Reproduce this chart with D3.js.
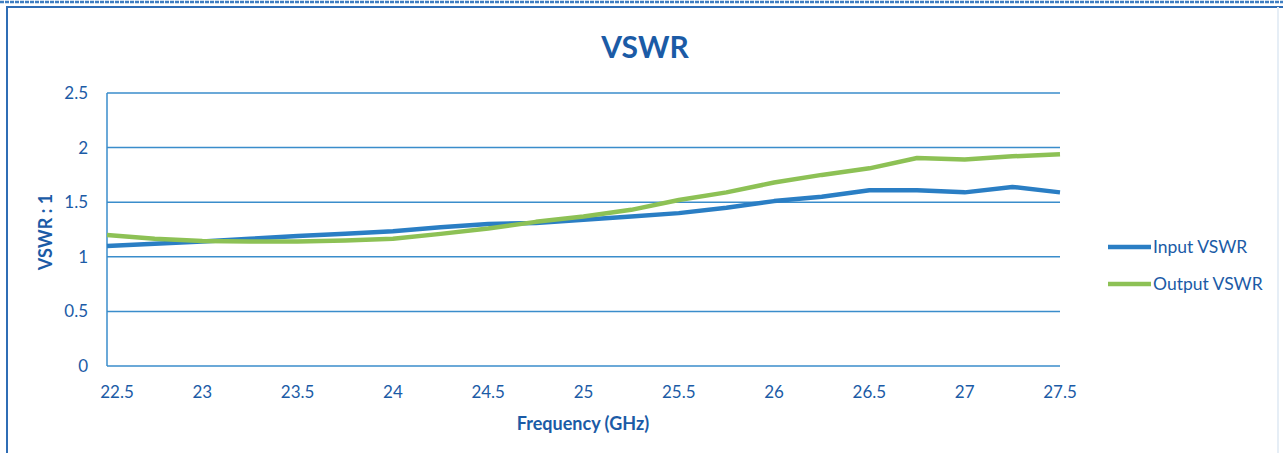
<!DOCTYPE html>
<html>
<head>
<meta charset="utf-8">
<script src="https://cdn.jsdelivr.net/npm/d3@7"></script>
<style>
  body { margin: 0; background: #fff; }
  svg { display: block; font-family: Lato, "Open Sans", sans-serif; }
</style>
</head>
<body>
<svg id="chart" width="1283" height="453"></svg>
<script>
// Frequency points (GHz)
const freqs = [22.5, 22.75, 23, 23.25, 23.5, 23.75, 24, 24.25, 24.5, 24.75, 25,
  25.25, 25.5, 25.75, 26, 26.25, 26.5, 26.75, 27, 27.25, 27.5];

const inputVswr = [1.1, 1.12, 1.14, 1.165, 1.19, 1.21, 1.235, 1.27, 1.3, 1.31, 1.34,
  1.37, 1.4, 1.45, 1.51, 1.55, 1.61, 1.61, 1.59, 1.64, 1.59];

const outputVswr = [1.2, 1.165, 1.145, 1.14, 1.14, 1.15, 1.165, 1.21, 1.26, 1.32, 1.37,
  1.43, 1.52, 1.59, 1.68, 1.75, 1.81, 1.905, 1.89, 1.92, 1.94];

const xTicks = [22.5, 23, 23.5, 24, 24.5, 25, 25.5, 26, 26.5, 27, 27.5];
const yTicks = [0, 0.5, 1, 1.5, 2, 2.5];

const seriesNames = ["Input VSWR", "Output VSWR"];
const seriesColors = ["#2a7ec4", "#8dc155"];

const textColor = "#1b5ba6";
const gridColor = "#3a8dcb";

const svg = d3.select("#chart");

// outer frame
svg.append("line").attr("x1", 0).attr("x2", 1283).attr("y1", 2).attr("y2", 2)
  .attr("stroke", "#3f7fc2").attr("stroke-width", 2.5).attr("stroke-dasharray", "4,1");
svg.append("line").attr("x1", 6).attr("x2", 1283).attr("y1", 7).attr("y2", 7)
  .attr("stroke", "#2f6db5").attr("stroke-width", 2);
svg.append("line").attr("x1", 7).attr("x2", 7).attr("y1", 7).attr("y2", 453)
  .attr("stroke", "#2f6db5").attr("stroke-width", 2);
svg.append("line").attr("x1", 1278).attr("x2", 1278).attr("y1", 7).attr("y2", 453)
  .attr("stroke", "#e6eef6").attr("stroke-width", 2);

const x = d3.scaleLinear().domain([22.5, 27.5]).range([107, 1060]);
const y = d3.scaleLinear().domain([0, 2.5]).range([366, 93]);

// gridlines
svg.append("g")
  .selectAll("line")
  .data(yTicks)
  .join("line")
  .attr("x1", x(22.5))
  .attr("x2", x(27.5))
  .attr("y1", (d) => y(d))
  .attr("y2", (d) => y(d))
  .attr("stroke", gridColor)
  .attr("stroke-width", 1.5);

// left axis line
svg.append("line")
  .attr("x1", x(22.5)).attr("x2", x(22.5))
  .attr("y1", y(2.5)).attr("y2", y(0))
  .attr("stroke", gridColor).attr("stroke-width", 1.5);

// y tick labels
svg.append("g")
  .selectAll("text")
  .data(yTicks)
  .join("text")
  .attr("x", 88)
  .attr("y", (d) => y(d) + 6)
  .attr("text-anchor", "end")
  .attr("fill", textColor)
  .attr("font-size", 17)
  .text((d) => d);

// x tick labels
svg.append("g")
  .selectAll("text")
  .data(xTicks)
  .join("text")
  .attr("x", (d) => x(d) + (d === 22.5 ? 10 : 0))
  .attr("y", 398)
  .attr("text-anchor", "middle")
  .attr("fill", textColor)
  .attr("font-size", 17)
  .text((d) => d);

// title
svg.append("text")
  .attr("x", 645)
  .attr("y", 58)
  .attr("text-anchor", "middle")
  .attr("fill", textColor)
  .attr("font-size", 30)
  .attr("font-weight", "bold")
  .text("VSWR");

// axis titles
svg.append("text")
  .attr("x", 583)
  .attr("y", 430)
  .attr("text-anchor", "middle")
  .attr("fill", textColor)
  .attr("font-size", 18)
  .attr("font-weight", "bold")
  .text("Frequency (GHz)");

svg.append("text")
  .attr("transform", "translate(52,232) rotate(-90)")
  .attr("text-anchor", "middle")
  .attr("fill", textColor)
  .attr("font-size", 18)
  .attr("font-weight", "bold")
  .text("VSWR : 1");

// series lines
const line = d3.line()
  .x((d, i) => x(freqs[i]))
  .y((d) => y(d));

[inputVswr, outputVswr].forEach((vals, i) => {
  svg.append("path")
    .datum(vals)
    .attr("fill", "none")
    .attr("stroke", seriesColors[i])
    .attr("stroke-width", 4.5)
    .attr("stroke-linejoin", "round")
    .attr("d", line);
});

// legend
const legend = svg.append("g");
seriesNames.forEach((name, i) => {
  const ly = 247 + i * 37;
  legend.append("line")
    .attr("x1", 1108).attr("x2", 1151)
    .attr("y1", ly).attr("y2", ly)
    .attr("stroke", seriesColors[i])
    .attr("stroke-width", 4.5);
  legend.append("text")
    .attr("x", 1153)
    .attr("y", ly + 6)
    .attr("fill", textColor)
    .attr("font-size", 17.5)
    .text(name);
});
</script>
</body>
</html>
